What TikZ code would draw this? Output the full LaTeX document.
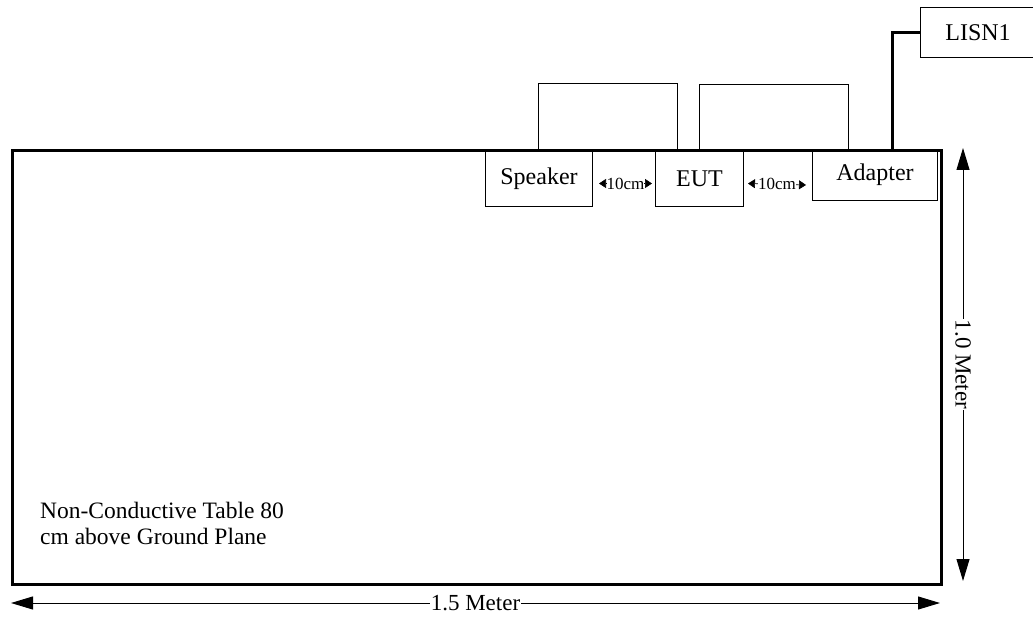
\documentclass[tikz,border=0pt]{standalone}
\usepackage{fontspec}
\setmainfont{Liberation Serif}
\usetikzlibrary{arrows.meta,calc}
\begin{document}
\begin{tikzpicture}[x=1pt,y=-1pt,
  box/.style={draw, line width=1pt, inner sep=0pt, font=\fontsize{24}{26}\selectfont},
  thick cable/.style={line width=3pt},
  thin cable/.style={line width=0.8pt},
  dim/.style={line width=1pt, {Triangle[length=22pt,width=13pt]}-{Triangle[length=22pt,width=13pt]}},
  gap/.style={line width=0.6pt, {Triangle[length=7pt,width=9pt]}-{Triangle[length=7pt,width=9pt]}},
  gaplbl/.style={font=\fontsize{17}{18}\selectfont, fill=white, inner xsep=0pt, inner ysep=1pt},
  dimlbl/.style={font=\fontsize{23}{25}\selectfont, fill=white, inner sep=0.5pt},
  lbl/.style={font=\fontsize{23.5}{26}\selectfont, inner sep=0pt, align=left}]
\useasboundingbox (0,0) rectangle (1033,620);
% table
\node[draw, line width=3pt, minimum width=929pt, minimum height=434pt, inner sep=0pt, anchor=north west] (table) at (11,149) {};
% boxes
\node[box, minimum width=107pt, minimum height=56pt, anchor=north west] (spk) at (485,150) {Speaker};
\node[box, minimum width=88pt, minimum height=56pt, anchor=north west] (eut) at (655,150) {EUT};
\node[box, minimum width=125pt, minimum height=51pt, anchor=north west] (adp) at (812,149) {Adapter};
\node[box, minimum width=115pt, minimum height=50pt, anchor=north west] (lisn) at (920,7) {LISN1};
% cables
\coordinate (c1a) at (538,150);
\coordinate (c1b) at (677,151);
\coordinate (c2a) at (699,150);
\coordinate (c2b) at (848,149);
\draw[thin cable] (c1a) -- (538,83) -- (677,83) -- (c1b);
\draw[thin cable] (c2a) -- (699,84) -- (848,84) -- (c2b);
\draw[thick cable] (lisn.west) -| (adp.north west -| 892,0);
% gaps
\draw[gap] ($(spk.east)+(6,5)$) coordinate (g1a) -- ($(eut.west)+(-3,5)$) coordinate (g1b)
  node[midway, gaplbl] (g1) {10cm};
\draw[gap] ($(eut.east)+(4,5)$) coordinate (g2a) -- ($(adp.west)+(-6,10)$) coordinate (g2b)
  node[midway, gaplbl] (g2) {10cm};
% dimensions
\coordinate (v1) at (963,148);
\coordinate (v2) at (963,581);
\draw[dim] (v1) -- (v2) node[midway, dimlbl, rotate=-90] (vl) {1.0 Meter};
\coordinate (h1) at (11,603);
\coordinate (h2) at (940,603);
\draw[dim] (h1) -- (h2) node[pos=0.5, dimlbl] (hl) {1.5 Meter};
% table label
\node[lbl, anchor=north west] (tl) at (40,502) {Non-Conductive Table 80\\cm above Ground Plane};
\end{tikzpicture}
\end{document}
